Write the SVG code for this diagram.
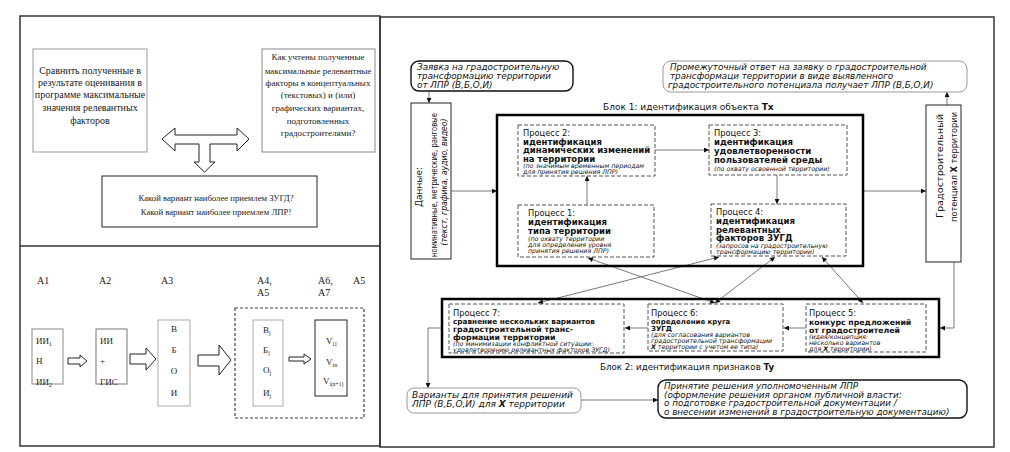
<svg xmlns="http://www.w3.org/2000/svg" width="1010" height="452" viewBox="0 0 1010 452">
<defs>
<marker id="ah" viewBox="0 0 10 10" refX="10" refY="5" markerWidth="6" markerHeight="5" orient="auto-start-reverse" markerUnits="userSpaceOnUse"><path d="M0,0 L10,5 L0,10 z" fill="#111"/></marker>
</defs>
<style>
.frame{fill:none;stroke:#333;stroke-width:1.5}
.serif{font-family:"Liberation Serif","DejaVu Serif","Times New Roman",serif;font-size:10px;fill:#222}
.sans{font-family:"DejaVu Sans","Liberation Sans",sans-serif;fill:#111}
.it{font-style:italic}
.b{font-weight:bold}
.gbox{fill:#fff;stroke:#999;stroke-width:1}
.kbox{fill:#fff;stroke:#222;stroke-width:1}
.dash{fill:#fff;stroke:#555;stroke-width:1;stroke-dasharray:4 2}
.block{fill:none;stroke:#000;stroke-width:2.5}
.con{fill:none;stroke:#555;stroke-width:0.8}
.arr{fill:#fff;stroke:#222;stroke-width:1}
.p{font-size:8.3px}
.pb{font-size:8.5px;font-weight:bold}
.pi{font-size:6.3px;font-style:italic}
</style>

<!-- frames -->
<g id="frames">
<rect class="frame" x="20" y="16" width="360" height="430"/>
<line class="frame" x1="20" y1="246" x2="380" y2="246"/>
<rect class="frame" x="380" y="17" width="614" height="430"/>
</g>

<!-- left top panel -->
<g id="lt-box1">
<rect class="gbox" x="33" y="49" width="114" height="103"/>
<text class="serif" text-anchor="middle"><tspan x="90" y="74">Сравнить полученные в</tspan><tspan x="90" y="86">результате оценивания в</tspan><tspan x="90" y="98">программе максимальные</tspan><tspan x="90" y="111">значения релевантных</tspan><tspan x="90" y="124">факторов</tspan></text>
</g>
<g id="lt-box2">
<rect class="gbox" x="262" y="49" width="113" height="103" style="stroke:#888"/>
<text class="serif" text-anchor="middle" style="font-size:9px"><tspan x="318" y="60">Как учтены полученные</tspan><tspan x="318" y="74">максимальные релевантные</tspan><tspan x="318" y="86">факторы в концептуальных</tspan><tspan x="318" y="98">(текстовых) и (или)</tspan><tspan x="318" y="111">графических вариантах,</tspan><tspan x="318" y="124">подготовленных</tspan><tspan x="318" y="136">градостроителями?</tspan></text>
</g>
<g id="lt-arrow">
<polygon class="arr" points="162,139 175,128 175,135 237,135 237,128 249,139 237,151 237,144 210,144 210,162 215,162 204.5,172 194,162 199,162 199,144 175,144 175,151"/>
</g>
<g id="lt-box3">
<rect class="kbox" x="102" y="176" width="215" height="51"/>
<text class="serif" text-anchor="middle" style="font-size:8.7px"><tspan x="216" y="201">Какой вариант наиболее приемлем ЗУГД?</tspan><tspan x="216" y="215">Какой вариант наиболее приемлем ЛПР!</tspan></text>
</g>

<!-- left bottom panel -->
<g id="lb-labels" class="serif">
<text x="37" y="284">A1</text>
<text x="99" y="284">A2</text>
<text x="161" y="284">A3</text>
<text x="257" y="284">A4,</text>
<text x="257" y="296">A5</text>
<text x="318" y="284">A6,</text>
<text x="318" y="296">A7</text>
<text x="353" y="284">A5</text>
</g>
<g id="lb-a1">
<rect class="gbox" x="32" y="329" width="31" height="55" style="stroke:#888"/>
<text class="serif" style="font-size:9px"><tspan x="36" y="344">ИИ</tspan><tspan font-size="6" dy="2">1</tspan><tspan x="36" y="364">Н</tspan><tspan x="36" y="385">ИИ</tspan><tspan font-size="6" dy="2">2</tspan></text>
</g>
<g id="lb-ar1"><polygon class="arr" points="68,358 80,358 80,355 87,361 80,367 80,364 68,364"/></g>
<g id="lb-a2">
<rect class="gbox" x="96" y="329" width="31" height="55" style="stroke:#777"/>
<text class="serif" style="font-size:9px"><tspan x="100" y="344">ИИ</tspan><tspan x="100" y="364">+</tspan><tspan x="100" y="385">ГИС</tspan></text>
</g>
<g id="lb-ar2"><polygon class="arr" points="130,354 146,354 146,348 156,359 146,370 146,364 130,364"/></g>
<g id="lb-a3">
<rect class="gbox" x="158" y="320" width="32" height="86" style="stroke:#aaa"/>
<text class="serif" style="font-size:9px" text-anchor="middle"><tspan x="174" y="332">В</tspan><tspan x="174" y="353">Б</tspan><tspan x="174" y="374">О</tspan><tspan x="174" y="396">И</tspan></text>
</g>
<g id="lb-ar3"><polygon class="arr" points="198,355 219,355 219,345 231,360 219,375 219,366 198,366"/></g>
<g id="lb-group">
<rect x="235" y="308" width="129" height="110" fill="none" stroke="#444" stroke-width="1.2" stroke-dasharray="3 2"/>
</g>
<g id="lb-a4">
<rect class="gbox" x="253" y="320" width="30" height="86" style="stroke:#aaa"/>
<text class="serif" style="font-size:9px"><tspan x="263" y="333">В</tspan><tspan font-size="6" dy="2">j</tspan><tspan x="263" y="353">Б</tspan><tspan font-size="6" dy="2">j</tspan><tspan x="263" y="373">О</tspan><tspan font-size="6" dy="2">j</tspan><tspan x="263" y="396">И</tspan><tspan font-size="6" dy="2">j</tspan></text>
</g>
<g id="lb-ar4"><polygon class="arr" points="289,357 304,357 304,354 311,359 304,364 304,361 289,361"/></g>
<g id="lb-a6">
<rect class="kbox" x="315" y="320" width="32" height="76"/>
<text class="serif" style="font-size:9px"><tspan x="326" y="344">V</tspan><tspan font-size="6" dy="2">i1</tspan><tspan x="326" y="365">V</tspan><tspan font-size="6" dy="2">in</tspan><tspan x="323" y="384">V</tspan><tspan font-size="5.5" dy="2">i(n+1)</tspan></text>
</g>

<!-- right panel connectors -->
<g id="connectors">
<line class="con" x1="429" y1="91" x2="429" y2="103" marker-end="url(#ah)"/>
<line class="con" x1="451" y1="191" x2="497" y2="191" marker-end="url(#ah)"/>
<line class="con" x1="655" y1="150" x2="709" y2="150" marker-end="url(#ah)"/>
<line class="con" x1="587" y1="205" x2="587" y2="176" marker-end="url(#ah)"/>
<line class="con" x1="777" y1="175" x2="777" y2="204" marker-end="url(#ah)"/>
<line class="con" x1="863" y1="191" x2="926" y2="191" marker-end="url(#ah)"/>
<line class="con" x1="947" y1="105" x2="947" y2="92" marker-end="url(#ah)"/>
<path class="con" d="M954,262 V328 H940" marker-end="url(#ah)"/>
<line class="con" x1="806" y1="328" x2="784" y2="328" marker-end="url(#ah)"/>
<line class="con" x1="648" y1="328" x2="625" y2="328" marker-end="url(#ah)"/>
<path class="con" d="M442,328 H428 V388" marker-end="url(#ah)"/>
<line class="con" x1="581" y1="400" x2="658" y2="400" marker-end="url(#ah)"/>
<line class="con" x1="588" y1="258" x2="715" y2="303" marker-start="url(#ah)" marker-end="url(#ah)"/>
<line class="con" x1="538" y1="303" x2="719" y2="257" marker-start="url(#ah)" marker-end="url(#ah)"/>
<line class="con" x1="715" y1="303" x2="775" y2="257" marker-start="url(#ah)" marker-end="url(#ah)"/>
<line class="con" x1="863" y1="303" x2="822" y2="257" marker-start="url(#ah)" marker-end="url(#ah)"/>
</g>

<!-- right panel nodes -->
<g id="request">
<rect x="411" y="61" width="162" height="30" rx="8" fill="#fff" stroke="#111" stroke-width="1.4"/>
<text class="sans it" font-size="8.8"><tspan x="417" y="69.5">Заявка на градостроительную</tspan><tspan x="417" y="78.5">трансформацию территории</tspan><tspan x="417" y="87.5">от ЛПР (В,Б,О,И)</tspan></text>
</g>
<g id="answer">
<rect x="663" y="61" width="304" height="31" rx="8" fill="#fff" stroke="#999" stroke-width="1"/>
<text class="sans it" font-size="8.8"><tspan x="670" y="69.5">Промежуточный ответ на заявку о градостроительной</tspan><tspan x="670" y="78.5">трансформаци территории в виде выявленного</tspan><tspan x="668" y="88">градостроительного потенциала получает ЛПР (В,Б,О,И)</tspan></text>
</g>
<g id="data">
<rect x="411" y="103" width="40" height="156" fill="#fff" stroke="#222" stroke-width="1"/>
<text class="sans" font-size="9" text-anchor="middle" transform="translate(422,187) rotate(-90)">Данные:</text>
<text class="sans" font-size="9" text-anchor="middle" transform="translate(437,185) rotate(-90)" textLength="144" lengthAdjust="spacingAndGlyphs">номинативные, метрические, ранговые</text>
<text class="sans it" font-size="9" text-anchor="middle" transform="translate(447,182) rotate(-90)" textLength="127" lengthAdjust="spacingAndGlyphs">(текст, графика, аудио, видео)</text>
</g>
<g id="potential">
<rect x="926" y="105" width="35" height="157" fill="#fff" stroke="#222" stroke-width="1"/>
<text class="sans" font-size="9.5" text-anchor="middle" transform="translate(943,166) rotate(-90)" textLength="104" lengthAdjust="spacingAndGlyphs">Градостроительный</text>
<text class="sans" font-size="9.5" text-anchor="middle" transform="translate(957,167) rotate(-90)" textLength="110" lengthAdjust="spacingAndGlyphs">потенциал <tspan class="b">X</tspan> территории</text>
</g>

<g id="block1">
<rect class="block" x="497" y="115" width="366" height="151"/>
<text class="sans" font-size="9" x="603" y="110">Блок 1: идентификация объекта <tspan class="b">Tx</tspan></text>
</g>
<g id="process2">
<rect class="dash" x="518" y="125" width="137" height="51"/>
<text class="sans"><tspan class="p" x="523" y="136">Процесс 2:</tspan><tspan class="pb" x="523" y="144.5">идентификация</tspan><tspan class="pb" x="523" y="153">динамических изменений</tspan><tspan class="pb" x="523" y="161.5">на территории</tspan><tspan class="pi" x="523" y="168">(по значимым временным периодам</tspan><tspan class="pi" x="523" y="174">для принятия решения ЛПР)</tspan></text>
</g>
<g id="process3">
<rect class="dash" x="709" y="125" width="138" height="50"/>
<text class="sans"><tspan class="p" x="714" y="136">Процесс 3:</tspan><tspan class="pb" x="714" y="145">идентификация</tspan><tspan class="pb" x="714" y="154">удовлетворенности</tspan><tspan class="pb" x="714" y="163">пользователей среды</tspan><tspan class="pi" x="714" y="171">(по охвату освоенной территории)</tspan></text>
</g>
<g id="process1">
<rect class="dash" x="518" y="205" width="136" height="52"/>
<text class="sans"><tspan class="p" x="528" y="216">Процесс 1:</tspan><tspan class="pb" x="528" y="225">идентификация</tspan><tspan class="pb" x="528" y="234">типа территории</tspan><tspan class="pi" x="528" y="240.5">(по охвату территории</tspan><tspan class="pi" x="528" y="246.5">для определения уровня</tspan><tspan class="pi" x="528" y="252.5">принятия решения ЛПР)</tspan></text>
</g>
<g id="process4">
<rect class="dash" x="711" y="204" width="135" height="52"/>
<text class="sans"><tspan class="p" x="716" y="215">Процесс 4:</tspan><tspan class="pb" x="716" y="224">идентификация</tspan><tspan class="pb" x="716" y="232.5">релевантных</tspan><tspan class="pb" x="716" y="241">факторов ЗУГД</tspan><tspan class="pi" x="716" y="248">(запросов на градостроительную</tspan><tspan class="pi" x="716" y="254">трансформацию территории)</tspan></text>
</g>

<g id="block2">
<rect class="block" x="442" y="299" width="497" height="58"/>
<text class="sans" font-size="8.7" x="600" y="370">Блок 2: идентификация признаков <tspan class="b">Ty</tspan></text>
</g>
<g id="process7">
<rect class="dash" x="449" y="304" width="175" height="49"/>
<text class="sans"><tspan class="p" x="453" y="316">Процесс 7:</tspan><tspan class="b" font-size="7.3" x="453" y="324">сравнение нескольких вариантов</tspan><tspan class="b" font-size="7.8" x="453" y="332">градостроительной транс-</tspan><tspan class="b" font-size="7.8" x="453" y="340">формации территории</tspan><tspan class="pi" x="453" y="346">(по минимизации конфликтной ситуации:</tspan><tspan class="pi" x="453" y="352">удовлетворению релевантных факторов ЗУГД)</tspan></text>
</g>
<g id="process6">
<rect class="dash" x="648" y="304" width="135" height="47"/>
<text class="sans"><tspan class="p" x="651" y="316">Процесс 6:</tspan><tspan class="b" font-size="7" x="651" y="324">определение круга</tspan><tspan class="b" font-size="7" x="651" y="331">ЗУГД</tspan><tspan class="pi" x="651" y="337">(для согласования  вариантов</tspan><tspan class="pi" x="651" y="343">градостроительной трансформации</tspan><tspan class="pi" x="651" y="349"><tspan class="b">X</tspan> территории с учетом ее типа)</tspan></text>
</g>
<g id="process5">
<rect class="dash" x="806" y="304" width="120" height="48"/>
<text class="sans"><tspan class="p" x="809" y="316">Процесс 5:</tspan><tspan class="b" font-size="7.8" x="809" y="325">конкурс предложений</tspan><tspan class="b" font-size="7.8" x="809" y="332.5">от градостроителей</tspan><tspan class="pi" x="809" y="339">(идея/концепция:</tspan><tspan class="pi" x="809" y="345">несколько вариантов</tspan><tspan class="pi" x="809" y="351">для <tspan class="b">X</tspan> территории)</tspan></text>
</g>

<g id="variants">
<rect x="407" y="388" width="174" height="25" rx="7" fill="#fff" stroke="#999" stroke-width="1"/>
<text class="sans it" font-size="9"><tspan x="412" y="398">Варианты для принятия решений</tspan><tspan x="412" y="407">ЛПР (В,Б,О,И) для <tspan class="b">X</tspan> территории</tspan></text>
</g>
<g id="decision">
<rect x="658" y="380" width="309" height="38" rx="8" fill="#fff" stroke="#111" stroke-width="1.4"/>
<text class="sans it" font-size="8.8"><tspan x="664" y="389">Принятие решения уполномоченным ЛПР</tspan><tspan x="664" y="397.5">(оформление решения органом публичной власти:</tspan><tspan x="664" y="406">о подготовке градостроительной документации /</tspan><tspan x="664" y="414.5">о внесении изменений в градостроительную документацию)</tspan></text>
</g>
</svg>
